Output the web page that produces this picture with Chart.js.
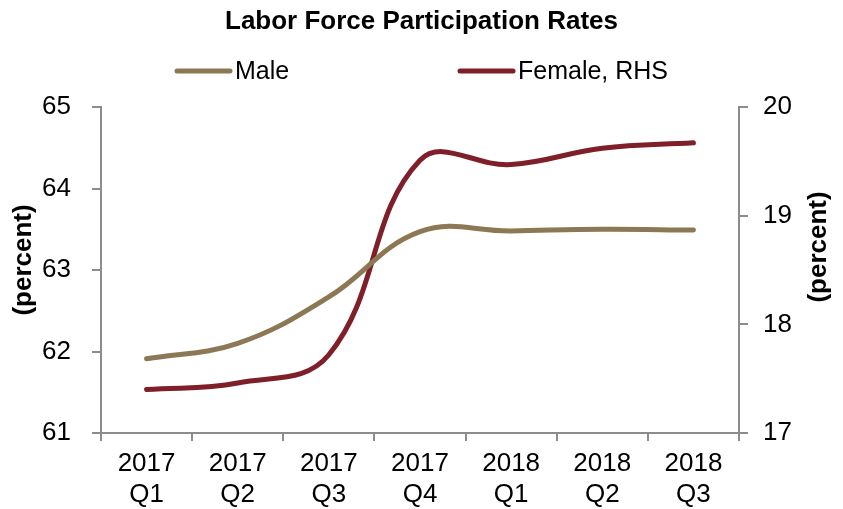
<!DOCTYPE html>
<html>
<head>
<meta charset="utf-8">
<script src="https://cdn.jsdelivr.net/npm/chart.js@4.4.1/dist/chart.umd.min.js"></script>
<style>
  html, body { margin: 0; padding: 0; background: #fff; }
  #wrap { width: 843px; height: 509px; }
</style>
</head>
<body>
<div id="wrap"><canvas id="lfprChart" width="843" height="509"></canvas></div>
<script>
// data
var quarters = [['2017', 'Q1'], ['2017', 'Q2'], ['2017', 'Q3'], ['2017', 'Q4'], ['2018', 'Q1'], ['2018', 'Q2'], ['2018', 'Q3']];
var maleRate = [61.91, 62.10, 62.67, 63.47, 63.48, 63.50, 63.49];
var femaleRate = [17.40, 17.46, 17.72, 19.51, 19.47, 19.62, 19.67];
var leftTicks = [61, 62, 63, 64, 65];
var rightTicks = [17, 18, 19, 20];

var MALE = '#8c7855';
var FEMALE = '#7e1f2a';
var AXIS = '#8c8c8c';
var FONT = "'Liberation Sans', Arial, sans-serif";

// title, legend and the two rotated axis titles
var headerPlugin = {
    id: 'header',
    afterDraw: function (chart) {
        var c = chart.ctx;
        c.save();
        c.fillStyle = '#000';
        c.textAlign = 'center';
        c.textBaseline = 'middle';
        c.font = 'bold 26px ' + FONT;
        c.fillText('Labor Force Participation Rates', 421.5, 22);

        var starts = [175, 458];
        c.font = '25px ' + FONT;
        c.textAlign = 'left';
        chart.data.datasets.forEach(function (ds, i) {
            var x = starts[i];
            c.strokeStyle = ds.borderColor;
            c.lineWidth = 5;
            c.lineCap = 'round';
            c.beginPath();
            c.moveTo(x + 2, 71);
            c.lineTo(x + 55, 71);
            c.stroke();
            c.fillStyle = '#000';
            c.fillText(ds.label, x + 60, 72);
        });

        // "(percent)" on both sides, reading bottom to top
        c.font = 'bold 26px ' + FONT;
        c.textAlign = 'center';
        [[24, 260], [819, 247]].forEach(function (p) {
            c.save();
            c.translate(p[0], p[1]);
            c.rotate(-Math.PI / 2);
            c.fillText('(percent)', 0, 0);
            c.restore();
        });
        c.restore();
    }
};

var ctx = document.getElementById('lfprChart').getContext('2d');
var lfprChart = new Chart(ctx, {
    type: 'line',
    data: {
        labels: quarters,
        datasets: [{
            label: 'Male',
            data: maleRate,
            yAxisID: 'y',
            borderColor: MALE,
            backgroundColor: MALE,
            borderWidth: 5,
            pointRadius: 0,
            tension: 0.4,
            borderCapStyle: 'round'
        }, {
            label: 'Female, RHS',
            data: femaleRate,
            yAxisID: 'y2',
            borderColor: FEMALE,
            backgroundColor: FEMALE,
            borderWidth: 5,
            pointRadius: 0,
            tension: 0.4,
            borderCapStyle: 'round'
        }]
    },
    options: {
        responsive: false,
        animation: false,
        layout: { padding: { top: 107, bottom: 0, left: 0, right: 0 } },
        plugins: {
            legend: { display: false },
            title: { display: false },
            tooltip: { enabled: false }
        },
        scales: {
            x: {
                offset: true,
                grid: { offset: true, drawOnChartArea: false, tickLength: 8, color: AXIS, lineWidth: 2 },
                border: { color: AXIS, width: 2 },
                ticks: { color: '#000', padding: 7, maxRotation: 0, font: { family: FONT, size: 26, lineHeight: 1.2 } },
                afterFit: function (s) { s.height = 76; }
            },
            y: {
                position: 'left',
                min: 61, max: 65,
                afterBuildTicks: function (s) { s.ticks = leftTicks.map(function (v) { return { value: v }; }); },
                grid: { drawOnChartArea: false, tickLength: 9, color: AXIS, lineWidth: 2 },
                border: { color: AXIS, width: 2 },
                ticks: { color: '#000', padding: 21, font: { family: FONT, size: 26 } },
                afterFit: function (s) { s.width = 101; }
            },
            y2: {
                position: 'right',
                min: 17, max: 20,
                afterBuildTicks: function (s) { s.ticks = rightTicks.map(function (v) { return { value: v }; }); },
                grid: { drawOnChartArea: false, tickLength: 9, color: AXIS, lineWidth: 2 },
                border: { color: AXIS, width: 2 },
                ticks: { color: '#000', padding: 15, font: { family: FONT, size: 26 } },
                afterFit: function (s) { s.width = 104; }
            }
        }
    },
    plugins: [headerPlugin]
});
</script>
</body>
</html>
